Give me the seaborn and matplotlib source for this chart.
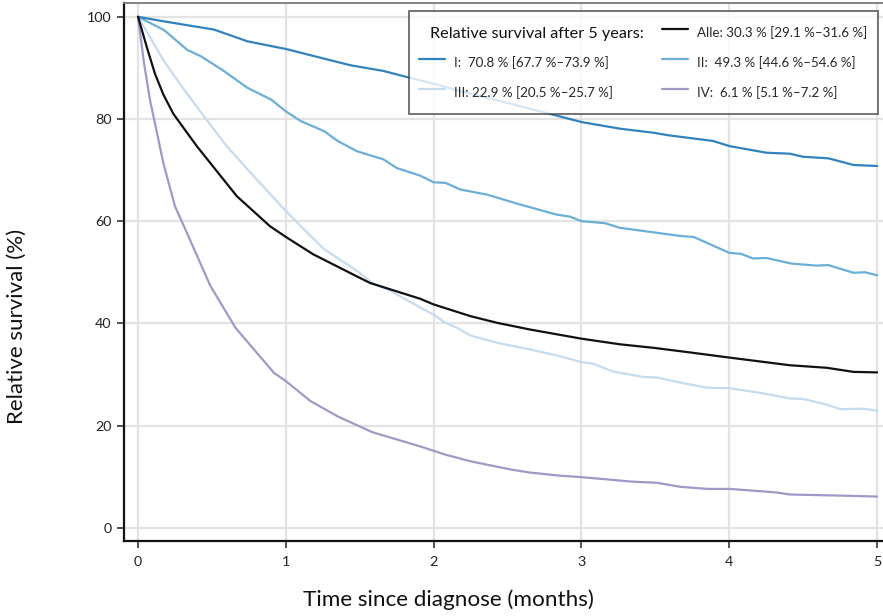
import numpy as np
import pandas as pd
import matplotlib
matplotlib.use("Agg")
import matplotlib.pyplot as plt
from matplotlib.lines import Line2D
import seaborn as sns

# ---- data ----
t_alle = [0, 0.06, 0.115, 0.171, 0.239, 0.397, 0.668, 0.893, 1.006, 1.186, 1.48, 1.57, 1.91, 2.0, 2.25, 2.43, 2.65, 3.0, 3.26, 3.49, 3.71, 4.0, 4.41, 4.66, 4.84, 5.0]
v_alle = [100, 94.0, 88.8, 84.8, 81.0, 74.7, 64.9, 59.0, 56.8, 53.5, 49.2, 47.9, 44.8, 43.7, 41.4, 40.1, 38.8, 37.0, 35.9, 35.2, 34.4, 33.3, 31.8, 31.3, 30.5, 30.4]

t_I = [0, 0.176, 0.514, 0.74, 1.0, 1.26, 1.44, 1.66, 1.82, 2.0, 2.2, 2.4, 2.6, 2.8, 3.0, 3.26, 3.49, 3.59, 3.89, 4.0, 4.25, 4.41, 4.5, 4.67, 4.84, 5.0]
v_I = [100, 99.1, 97.5, 95.2, 93.7, 91.8, 90.5, 89.4, 88.2, 86.9, 85.3, 83.9, 82.4, 80.9, 79.4, 78.1, 77.3, 76.8, 75.7, 74.7, 73.4, 73.2, 72.6, 72.3, 71.0, 70.8]

t_II = [0, 0.176, 0.334, 0.424, 0.58, 0.74, 0.90, 1.0, 1.10, 1.26, 1.35, 1.48, 1.66, 1.75, 1.91, 2.0, 2.08, 2.18, 2.36, 2.58, 2.83, 2.92, 3.0, 3.16, 3.26, 3.49, 3.67, 3.76, 4.0, 4.08, 4.16, 4.25, 4.42, 4.59, 4.67, 4.84, 4.92, 5.0]
v_II = [100, 97.4, 93.5, 92.3, 89.4, 86.1, 83.8, 81.5, 79.6, 77.6, 75.7, 73.7, 72.1, 70.4, 68.9, 67.6, 67.5, 66.2, 65.2, 63.3, 61.3, 60.9, 60.0, 59.6, 58.7, 57.8, 57.1, 56.9, 53.8, 53.6, 52.7, 52.8, 51.7, 51.3, 51.4, 49.9, 50.0, 49.4]

t_III = [0, 0.176, 0.31, 0.446, 0.60, 0.76, 0.875, 1.0, 1.146, 1.26, 1.48, 1.585, 1.71, 1.91, 2.0, 2.08, 2.16, 2.25, 2.43, 2.65, 2.85, 3.0, 3.08, 3.21, 3.42, 3.51, 3.67, 3.85, 4.0, 4.21, 4.41, 4.50, 4.66, 4.75, 4.91, 5.0]
v_III = [100, 91.3, 85.8, 80.5, 74.7, 69.5, 65.9, 62.0, 57.7, 54.5, 50.3, 47.9, 46.3, 43.1, 41.7, 40.1, 39.1, 37.6, 36.2, 34.9, 33.6, 32.4, 32.1, 30.6, 29.5, 29.4, 28.4, 27.4, 27.3, 26.4, 25.3, 25.2, 24.1, 23.2, 23.3, 22.9]

t_IV = [0, 0.04, 0.081, 0.171, 0.25, 0.32, 0.49, 0.66, 0.92, 1.0, 1.166, 1.35, 1.585, 1.91, 2.08, 2.25, 2.52, 2.65, 2.85, 3.0, 3.35, 3.51, 3.67, 3.85, 4.0, 4.32, 4.41, 4.73, 5.0]
v_IV = [100, 91.0, 83.7, 71.4, 62.9, 58.4, 47.3, 39.1, 30.3, 28.7, 24.8, 21.8, 18.7, 15.9, 14.3, 13.0, 11.4, 10.8, 10.2, 9.9, 9.0, 8.8, 8.0, 7.6, 7.6, 6.9, 6.5, 6.3, 6.1]

labels = {
    "Alle": "Alle: 30.3 % [29.1 %\u201331.6 %]",
    "I": "I:  70.8 % [67.7 %\u201373.9 %]",
    "II": "II:  49.3 % [44.6 %\u201354.6 %]",
    "III": "III: 22.9 % [20.5 %\u201325.7 %]",
    "IV": "IV:  6.1 % [5.1 %\u20137.2 %]",
}
x_ticks = [0, 1, 2, 3, 4, 5]
y_ticks = [0, 20, 40, 60, 80, 100]

colors = {"I": "#3182bd", "II": "#6baed6", "III": "#c6dbef", "IV": "#9e9ac8", "Alle": "#111111"}

sns.set_theme(style="white")
plt.rcParams["font.family"] = ["Lato", "DejaVu Sans"]

W, H = 883, 616
fig = plt.figure(figsize=(W / 100, H / 100), dpi=100)
ax = fig.add_axes([124 / W, 1 - 541 / H, 1 - 124 / W, (541 - 3) / H])

series = [("III", t_III, v_III), ("IV", t_IV, v_IV), ("II", t_II, v_II), ("I", t_I, v_I), ("Alle", t_alle, v_alle)]
for key, t, v in series:
    sns.lineplot(x=t, y=v, ax=ax, color=colors[key], linewidth=1.6, label=labels[key], legend=False)

ax.set_xlim(-0.095, 5.04)
ax.set_ylim(-2.6, 102.7)
ax.set_xticks(x_ticks)
ax.set_yticks(y_ticks)
ax.grid(True, color="#e3e3e3", linewidth=1.6)
ax.set_axisbelow(True)

for s in ["left", "bottom"]:
    ax.spines[s].set_color("#111111")
    ax.spines[s].set_linewidth(1.6)
ax.spines["top"].set_color("#777777")
ax.spines["top"].set_linewidth(1.3)
ax.spines["right"].set_visible(False)

ax.tick_params(axis="both", which="both", direction="out", length=5, width=1.2, color="#333333",
               labelsize=10.3, labelcolor="#222222", left=True, bottom=True)
ax.tick_params(axis="x", pad=6)
ax.tick_params(axis="y", pad=4)

ax.set_xlabel("Time since diagnose (months)", fontsize=16.2, color="#111111")
ax.set_ylabel("Relative survival (%)", fontsize=16, color="#111111")
# label centres in figure pixels -> axes coords
ax.xaxis.set_label_coords((448 - 124) / 759, -(600 - 541) / 538)
ax.xaxis.label.set_va("center")
ax.yaxis.set_label_coords(-(124 - 17) / 759, (541 - 326) / 538)
ax.yaxis.label.set_va("center")

# legend: column-major order -> [blank, I, III] and [Alle, II, IV]
blank = Line2D([], [], color="none")
handles = [blank,
           Line2D([], [], color=colors["I"], lw=1.6),
           Line2D([], [], color=colors["III"], lw=1.6),
           Line2D([], [], color=colors["Alle"], lw=1.6),
           Line2D([], [], color=colors["II"], lw=1.6),
           Line2D([], [], color=colors["IV"], lw=1.6)]
labs = [" ", labels["I"], labels["III"], labels["Alle"], labels["II"], labels["IV"]]
leg = ax.legend(handles, labs, ncol=2, loc="upper right",
                bbox_to_anchor=((878 - 124) / 759, 1 - (11 - 3) / 538),
                fontsize=9.6, frameon=True, fancybox=False, edgecolor="#444444",
                handlelength=1.9, handletextpad=0.7, handleheight=2.1, columnspacing=3.7,
                labelspacing=0.64, borderpad=0.8, borderaxespad=0)
leg.get_frame().set_linewidth(1.3)
leg.set_zorder(10)

fig.text(430 / W, 1 - 34 / H, "Relative survival after 5 years:", fontsize=11.7, va="center", ha="left",
         color="#111111", zorder=20)

fig.savefig("out.png", dpi=100)
